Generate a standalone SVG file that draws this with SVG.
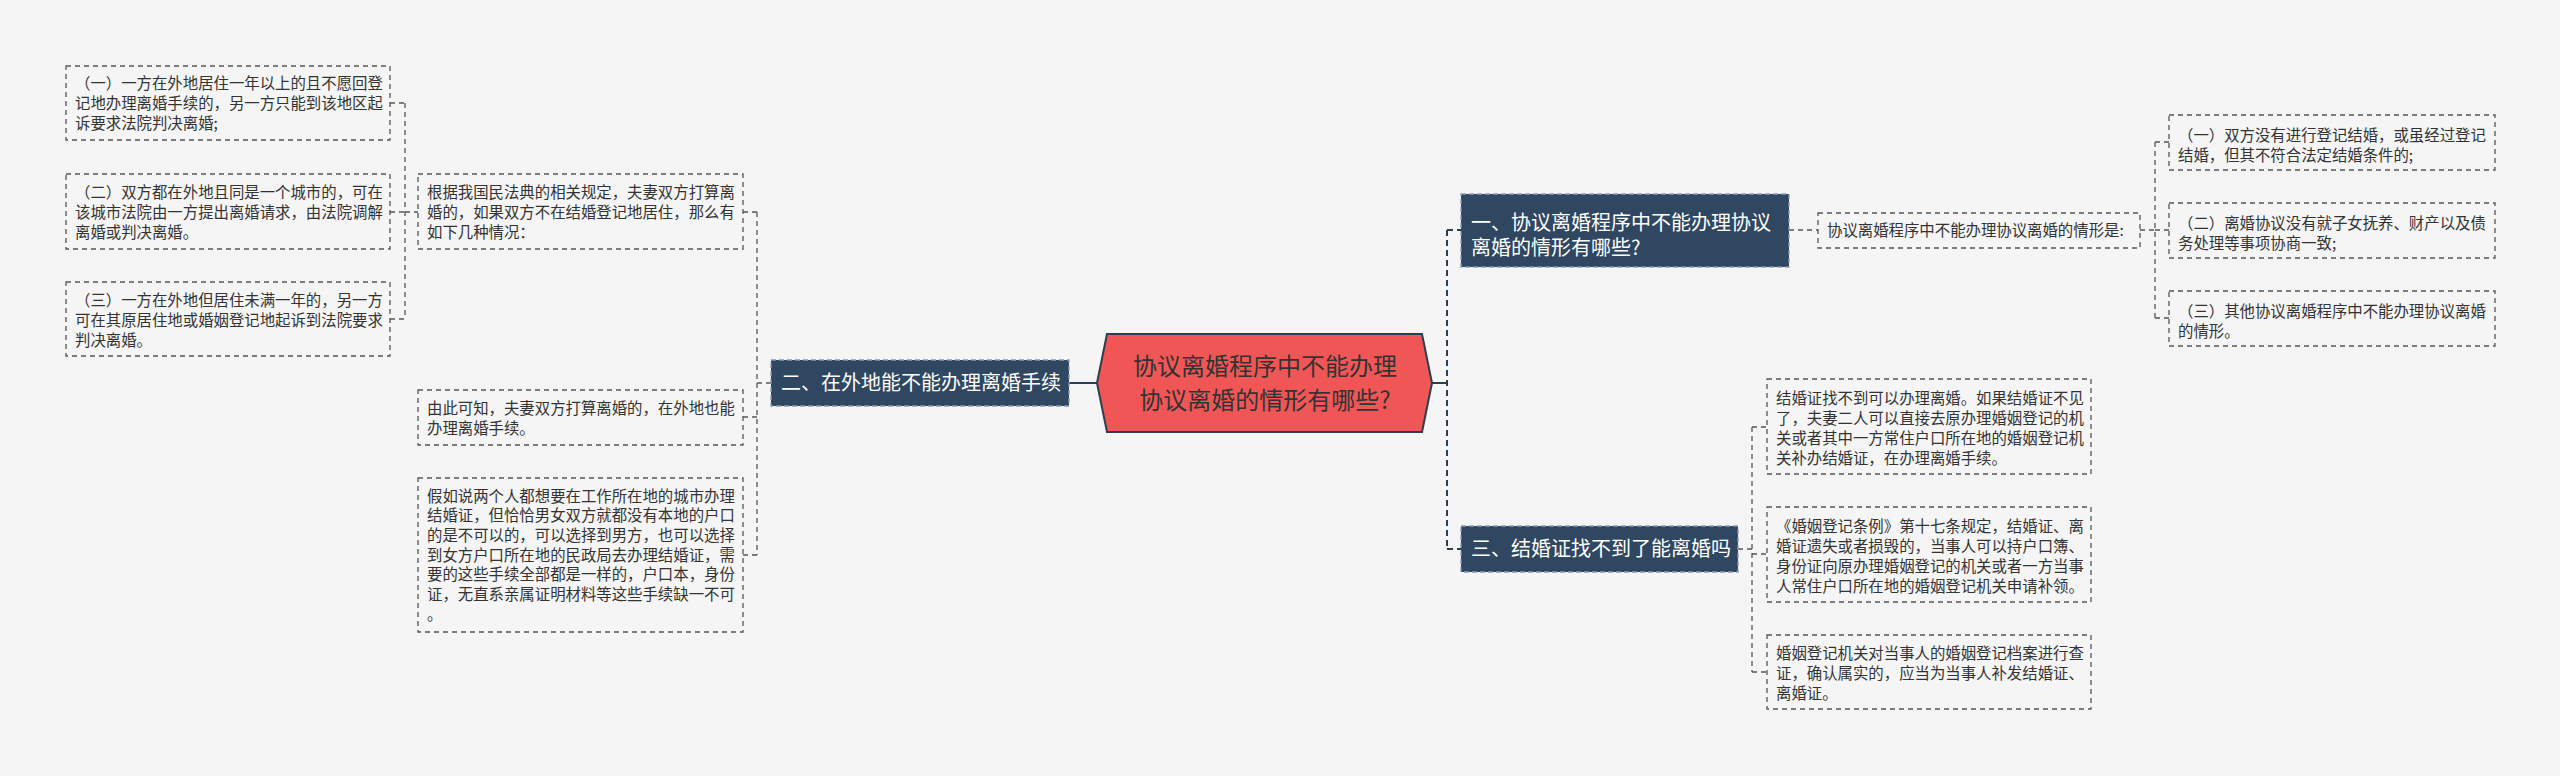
<svg xmlns="http://www.w3.org/2000/svg" width="2560" height="776" viewBox="0 0 2560 776">
<style>
.bg{fill:#f5f5f5}
.leaf{fill:#f5f5f5;stroke:#555;stroke-width:1.3;stroke-dasharray:5,4}
.lt{font-family:"Noto Sans CJK SC","Noto Sans",sans-serif;font-size:15.4px;fill:#333}
.br{fill:#2f4760;stroke:#8a9bb0;stroke-width:1.3;stroke-dasharray:5,3}
.bt{font-family:"Noto Sans CJK SC","Noto Sans",sans-serif;font-size:20px;fill:#fff}
.ct{font-family:"Noto Sans CJK SC","Noto Sans",sans-serif;font-size:24px;fill:#333;text-anchor:middle}
.c{fill:none;stroke:#555;stroke-width:1.3;stroke-dasharray:5,4}
.cd{fill:none;stroke:#2c3e50;stroke-width:2;stroke-dasharray:6,4}
.cs{fill:none;stroke:#2c3e50;stroke-width:2}
</style>
<rect class="bg" x="0" y="0" width="2560" height="776"/>
<g id="connectors">
<path class="c" d="M390 103H405M390 212H405M390 319H405M405 103V319M405 212H419"/>
<path class="c" d="M743 212H757M743 417H757M743 555H757M757 212V555M757 383H771"/>
<path class="cs" d="M1069 383H1097"/>
<path class="cs" d="M1432 383H1447"/>
<path class="cd" d="M1447 230V549M1447 230H1461M1447 549H1461"/>
<path class="c" d="M1789 230H1818"/>
<path class="c" d="M2140 230H2155M2155 142V318M2155 142H2169M2155 230H2169M2155 318H2169"/>
<path class="c" d="M1738 549H1752M1752 427V672M1752 427H1767M1752 554H1767M1752 672H1767"/>
</g>
<g id="center">
<polygon points="1097,383 1107,334 1422,334 1432,383 1422,432 1107,432" fill="#f05656" stroke="#2c3e50" stroke-width="2"/>
<text class="ct" x="1265" y="375">协议离婚程序中不能办理</text>
<text class="ct" x="1265" y="409">协议离婚的情形有哪些?</text>
</g>
<g id="b2">
<rect class="br" x="771" y="360" width="298" height="46"/>
<text class="bt" x="781" y="390">二、在外地能不能办理离婚手续</text>
</g>
<g id="b2a">
<rect class="leaf" x="418" y="174" width="325" height="75"/>
<text class="lt" x="427" y="197.5">根据我国民法典的相关规定，夫妻双方打算离</text>
<text class="lt" x="427" y="217.5">婚的，如果双方不在结婚登记地居住，那么有</text>
<text class="lt" x="427" y="237.5">如下几种情况：</text>
</g>
<g id="b2a1">
<rect class="leaf" x="66" y="66" width="324" height="74"/>
<text class="lt" x="75" y="89">（一）一方在外地居住一年以上的且不愿回登</text>
<text class="lt" x="75" y="109">记地办理离婚手续的，另一方只能到该地区起</text>
<text class="lt" x="75" y="129">诉要求法院判决离婚;</text>
</g>
<g id="b2a2">
<rect class="leaf" x="66" y="174" width="324" height="75"/>
<text class="lt" x="75" y="197.5">（二）双方都在外地且同是一个城市的，可在</text>
<text class="lt" x="75" y="217.5">该城市法院由一方提出离婚请求，由法院调解</text>
<text class="lt" x="75" y="237.5">离婚或判决离婚。</text>
</g>
<g id="b2a3">
<rect class="leaf" x="66" y="282" width="324" height="74"/>
<text class="lt" x="75" y="305.5">（三）一方在外地但居住未满一年的，另一方</text>
<text class="lt" x="75" y="325.5">可在其原居住地或婚姻登记地起诉到法院要求</text>
<text class="lt" x="75" y="345.5">判决离婚。</text>
</g>
<g id="b2b">
<rect class="leaf" x="418" y="390" width="325" height="55"/>
<text class="lt" x="427" y="413.5">由此可知，夫妻双方打算离婚的，在外地也能</text>
<text class="lt" x="427" y="433.5">办理离婚手续。</text>
</g>
<g id="b2c">
<rect class="leaf" x="418" y="478" width="325" height="154"/>
<text class="lt" x="427" y="501.5">假如说两个人都想要在工作所在地的城市办理</text>
<text class="lt" x="427" y="521.2">结婚证，但恰恰男女双方就都没有本地的户口</text>
<text class="lt" x="427" y="540.9">的是不可以的，可以选择到男方，也可以选择</text>
<text class="lt" x="427" y="560.6">到女方户口所在地的民政局去办理结婚证，需</text>
<text class="lt" x="427" y="580.3">要的这些手续全部都是一样的，户口本，身份</text>
<text class="lt" x="427" y="600">证，无直系亲属证明材料等这些手续缺一不可</text>
<text class="lt" x="427" y="620">。</text>
</g>
<g id="b1">
<rect class="br" x="1461" y="194" width="328" height="73"/>
<text class="bt" x="1471" y="230">一、协议离婚程序中不能办理协议</text>
<text class="bt" x="1471" y="254.5">离婚的情形有哪些?</text>
</g>
<g id="b1a">
<rect class="leaf" x="1818" y="213" width="322" height="35"/>
<text class="lt" x="1827" y="236">协议离婚程序中不能办理协议离婚的情形是:</text>
</g>
<g id="b1a1">
<rect class="leaf" x="2169" y="115" width="326" height="55"/>
<text class="lt" x="2178" y="140.5">（一）双方没有进行登记结婚，或虽经过登记</text>
<text class="lt" x="2178" y="160.5">结婚，但其不符合法定结婚条件的;</text>
</g>
<g id="b1a2">
<rect class="leaf" x="2169" y="203" width="326" height="55"/>
<text class="lt" x="2178" y="228.5">（二）离婚协议没有就子女抚养、财产以及债</text>
<text class="lt" x="2178" y="248.5">务处理等事项协商一致;</text>
</g>
<g id="b1a3">
<rect class="leaf" x="2169" y="291" width="326" height="55"/>
<text class="lt" x="2178" y="316.5">（三）其他协议离婚程序中不能办理协议离婚</text>
<text class="lt" x="2178" y="336.5">的情形。</text>
</g>
<g id="b3">
<rect class="br" x="1461" y="526" width="277" height="46"/>
<text class="bt" x="1471" y="556">三、结婚证找不到了能离婚吗</text>
</g>
<g id="b3a">
<rect class="leaf" x="1767" y="379" width="324" height="95"/>
<text class="lt" x="1776" y="403.5">结婚证找不到可以办理离婚。如果结婚证不见</text>
<text class="lt" x="1776" y="423.5">了，夫妻二人可以直接去原办理婚姻登记的机</text>
<text class="lt" x="1776" y="443.5">关或者其中一方常住户口所在地的婚姻登记机</text>
<text class="lt" x="1776" y="463.5">关补办结婚证，在办理离婚手续。</text>
</g>
<g id="b3b">
<rect class="leaf" x="1767" y="507" width="324" height="95"/>
<text class="lt" x="1776" y="531.5">《婚姻登记条例》第十七条规定，结婚证、离</text>
<text class="lt" x="1776" y="551.5">婚证遗失或者损毁的，当事人可以持户口簿、</text>
<text class="lt" x="1776" y="571.5">身份证向原办理婚姻登记的机关或者一方当事</text>
<text class="lt" x="1776" y="591.5">人常住户口所在地的婚姻登记机关申请补领。</text>
</g>
<g id="b3c">
<rect class="leaf" x="1767" y="635" width="324" height="74"/>
<text class="lt" x="1776" y="658.5">婚姻登记机关对当事人的婚姻登记档案进行查</text>
<text class="lt" x="1776" y="678.5">证，确认属实的，应当为当事人补发结婚证、</text>
<text class="lt" x="1776" y="698.5">离婚证。</text>
</g>
</svg>
